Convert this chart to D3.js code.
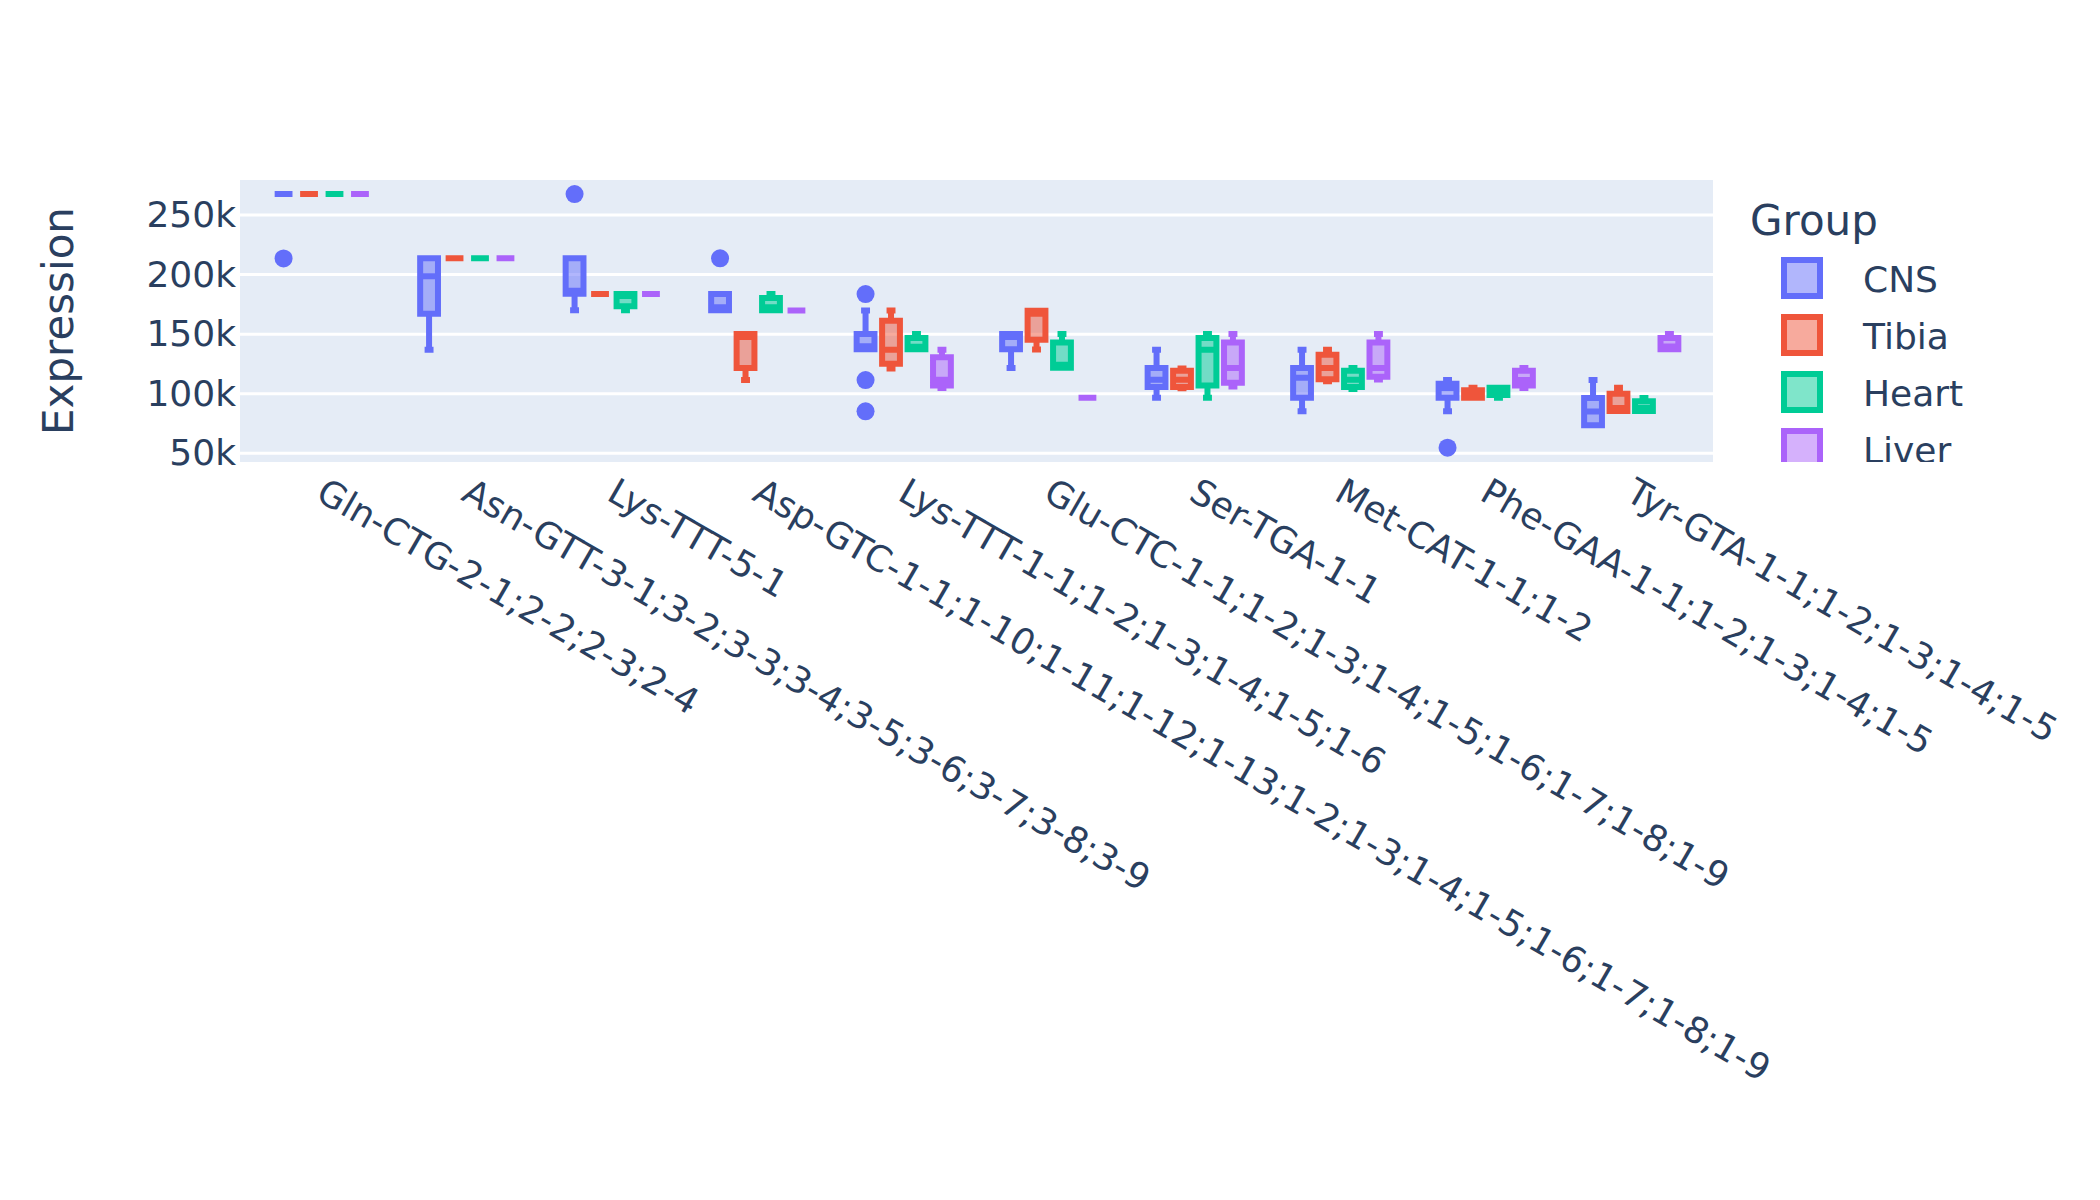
<!DOCTYPE html>
<html>
<head>
<meta charset="utf-8">
<script src="https://cdn.jsdelivr.net/npm/d3@7"></script>
<style>
  html, body { margin: 0; padding: 0; background: #fff; }
  text { font-family: "DejaVu Sans", sans-serif; fill: #2a3f5f; }
</style>
</head>
<body>
<svg id="chart" width="2100" height="1200"></svg>
<script>
// ---------------- data ----------------
const categories = [
  "Gln-CTG-2-1;2-2;2-3;2-4",
  "Asn-GTT-3-1;3-2;3-3;3-4;3-5;3-6;3-7;3-8;3-9",
  "Lys-TTT-5-1",
  "Asp-GTC-1-1;1-10;1-11;1-12;1-13;1-2;1-3;1-4;1-5;1-6;1-7;1-8;1-9",
  "Lys-TTT-1-1;1-2;1-3;1-4;1-5;1-6",
  "Glu-CTC-1-1;1-2;1-3;1-4;1-5;1-6;1-7;1-8;1-9",
  "Ser-TGA-1-1",
  "Met-CAT-1-1;1-2",
  "Phe-GAA-1-1;1-2;1-3;1-4;1-5",
  "Tyr-GTA-1-1;1-2;1-3;1-4;1-5"
];
const groups = ["CNS", "Tibia", "Heart", "Liver"];
const groupColors = ["#636efa", "#EF553B", "#00cc96", "#ab63fa"];
const yTickValues = [50000, 100000, 150000, 200000, 250000];
const yTickLabels = ["50k", "100k", "150k", "200k", "250k"];

// box statistics per category: [lowerFence, q1, median, q3, upperFence]
const cnsStats = [
  [267600, 267600, 267600, 267600, 267600],
  [136900, 167200, 198600, 213700, 213700],
  [170000, 184000, 186500, 213700, 213700],
  [170000, 170000, 172500, 183700, 183700],
  [137300, 137300, 139800, 150100, 169800],
  [121600, 137300, 147600, 150100, 150100],
  [96600, 105600, 111800, 121600, 137000],
  [85200, 96700, 113400, 121600, 137000],
  [85200, 96700, 104800, 108400, 111500],
  [73500, 73500, 85100, 96400, 111500]
];
const tibiaStats = [
  [267600, 267600, 267600, 267600, 267600],
  [213700, 213700, 213700, 213700, 213700],
  [183700, 183700, 183700, 183700, 183700],
  [111500, 121600, 147600, 150100, 150100],
  [121200, 125200, 137000, 161300, 169800],
  [137100, 145300, 167200, 169700, 169700],
  [104500, 105600, 111700, 119300, 121200],
  [110500, 112100, 121600, 132800, 137000],
  [96700, 96700, 99500, 102900, 105000],
  [85500, 85500, 88000, 100000, 105000]
];
const heartStats = [
  [267600, 267600, 267600, 267600, 267600],
  [213700, 213700, 213700, 213700, 213700],
  [170000, 173400, 182000, 183700, 183700],
  [170000, 170000, 172500, 180300, 183700],
  [137300, 137300, 139500, 146800, 150100],
  [121800, 121800, 124400, 143100, 150100],
  [96600, 107000, 137000, 146800, 150100],
  [104000, 105600, 111700, 119300, 121500],
  [96700, 98900, 100500, 105000, 105000],
  [85500, 85500, 88000, 93600, 96500]
];
const liverStats = [
  [267600, 267600, 267600, 267600, 267600],
  [213700, 213700, 213700, 213700, 213700],
  [183700, 183700, 183700, 183700, 183700],
  [169800, 169800, 169800, 169800, 169800],
  [104800, 107000, 111800, 130600, 137000],
  [96600, 96600, 96600, 96600, 96600],
  [106100, 109300, 121600, 143100, 150100],
  [112000, 114300, 121600, 143100, 150100],
  [104800, 107000, 111500, 119300, 121600],
  [137300, 137300, 139700, 146800, 150100]
];
// outlier points per category
const cnsOutliers = [[213600], [], [267600], [213700], [183700, 111500, 85200], [], [], [], [54700], []];
const tibiaOutliers = [[], [], [], [], [], [], [], [], [], []];
const heartOutliers = [[], [], [], [], [], [], [], [], [], []];
const liverOutliers = [[], [], [], [], [], [], [], [], [], []];

const allStats = [cnsStats, tibiaStats, heartStats, liverStats];
const allOutliers = [cnsOutliers, tibiaOutliers, heartOutliers, liverOutliers];

// ---------------- layout ----------------
const plot = { left: 240, right: 1713, top: 180, bottom: 462 };
const svg = d3.select("#chart");
svg.append("rect").attr("width", 2100).attr("height", 1200).attr("fill", "#fff");

const x = d3.scaleLinear().domain([-0.562, 9.562]).range([plot.left, plot.right]);
const y = d3.scaleLinear().domain([42700, 279400]).range([plot.bottom, plot.top]);

svg.append("rect")
  .attr("x", plot.left).attr("y", plot.top)
  .attr("width", plot.right - plot.left).attr("height", plot.bottom - plot.top)
  .attr("fill", "#e5ecf6");

// gridlines
svg.append("g").selectAll("line").data(yTickValues).join("line")
  .attr("x1", plot.left).attr("x2", plot.right)
  .attr("y1", d => y(d)).attr("y2", d => y(d))
  .attr("stroke", "#fff").attr("stroke-width", 3);

// y axis tick labels
const yAxis = d3.axisLeft(y).tickValues(yTickValues)
  .tickFormat((d, i) => yTickLabels[i]).tickSize(0).tickPadding(4);
const yg = svg.append("g").attr("transform", `translate(${plot.left},0)`).call(yAxis);
yg.select(".domain").remove();
yg.selectAll("text").attr("font-size", 36).attr("font-family", "DejaVu Sans").attr("fill", "#2a3f5f");

// y axis title
svg.append("text")
  .attr("transform", `translate(73,321) rotate(-90)`)
  .attr("text-anchor", "middle")
  .attr("font-size", 42)
  .text("Expression");

// x tick labels (rotated 30deg)
const xg = svg.append("g");
categories.forEach((c, i) => {
  xg.append("text")
    .attr("transform", `translate(${x(i)},486) rotate(30)`)
    .attr("x", 0).attr("y", 15)
    .attr("text-anchor", "start")
    .attr("font-size", 36)
    .text(c);
});

// boxes
const slot = 0.175;         // group spacing in category units
const halfBox = 0.06125;    // half box width in category units
const capFrac = 0.5;        // whisker width fraction

const boxG = svg.append("g");
groups.forEach((g, gi) => {
  const stats = allStats[gi];
  const outs = allOutliers[gi];
  const col = groupColors[gi];
  const fill = d3.color(col); fill.opacity = 0.5;
  stats.forEach((s, ci) => {
    const pc = ci + (gi - 1.5) * slot;
    const p0 = x(pc - halfBox), p1 = x(pc + halfBox), pcx = x(pc);
    const w0 = x(pc - halfBox * capFrac), w1 = x(pc + halfBox * capFrac);
    const [lf, q1, md, q3, uf] = s.map(v => y(v));
    const d =
      `M${p0},${md}H${p1}` +
      `M${p0},${q1}V${q3}H${p1}V${q1}Z` +
      `M${pcx},${q1}V${lf}M${pcx},${q3}V${uf}` +
      `M${w0},${lf}H${w1}M${w0},${uf}H${w1}`;
    boxG.append("path")
      .attr("d", d)
      .attr("fill", fill.formatRgb())
      .attr("stroke", col)
      .attr("stroke-width", 6);
    outs[ci].forEach(v => {
      boxG.append("circle")
        .attr("cx", pcx).attr("cy", y(v)).attr("r", 9)
        .attr("fill", col);
    });
  });
});

// legend (clipped to plot height)
svg.append("clipPath").attr("id", "legclip")
  .append("rect").attr("x", 1730).attr("y", plot.top).attr("width", 370).attr("height", plot.bottom - plot.top);
const leg = svg.append("g").attr("clip-path", "url(#legclip)");
leg.append("text").attr("x", 1750).attr("y", 235).attr("font-size", 42).text("Group");
groups.forEach((g, gi) => {
  const cy = 278 + gi * 57;
  const fill = d3.color(groupColors[gi]); fill.opacity = 0.5;
  leg.append("rect")
    .attr("x", 1784).attr("y", cy - 18).attr("width", 36).attr("height", 36)
    .attr("fill", fill.formatRgb()).attr("stroke", groupColors[gi]).attr("stroke-width", 6);
  leg.append("text")
    .attr("x", 1863).attr("y", cy + 13.5)
    .attr("font-size", 36)
    .text(g);
});
</script>
</body>
</html>
